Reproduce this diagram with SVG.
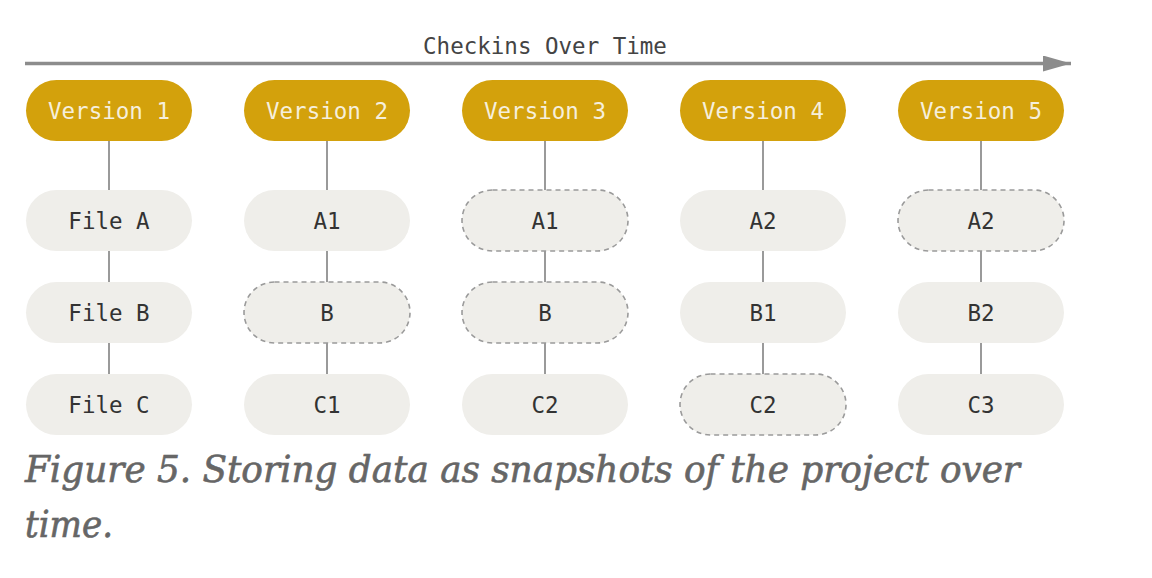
<svg xmlns="http://www.w3.org/2000/svg" width="1152" height="578" viewBox="0 0 1152 578">
<style>
.ver{fill:#d3a10c}
.ver-t{fill:#f6efdc;font-family:"DejaVu Sans Mono",monospace;font-size:22.5px;text-anchor:middle}
.file{fill:#efeeea}
.dash{stroke:#9a9a9a;stroke-width:1.6;stroke-dasharray:5 4}
.file-t{fill:#333;font-family:"DejaVu Sans Mono",monospace;font-size:22.5px;text-anchor:middle}
.conn line{stroke:#9a9a9a;stroke-width:2}
.title{fill:#444;font-family:"DejaVu Sans Mono",monospace;font-size:22.5px;text-anchor:middle}
.cap{fill:#666;stroke:#666;stroke-width:0.6;font-family:"DejaVu Serif","Liberation Serif",serif;font-stretch:condensed;font-style:italic;font-size:37px}
</style>
<defs>
<marker id="ah2" viewBox="0 0 28 16" markerWidth="28" markerHeight="16" refX="28" refY="8" orient="auto" markerUnits="userSpaceOnUse">
<path d="M0,0 L28,8 L0,16 Z" fill="#8c8c8c"/>
</marker>
</defs>
<rect width="1152" height="578" fill="#fff"/>
<g id="timeline">
<line x1="25" y1="63.5" x2="1071" y2="63.5" stroke="#8c8c8c" stroke-width="3.5" marker-end="url(#ah2)"/>
<text class="title" x="545" y="54">Checkins Over Time</text>
</g>
<g class="conn" id="connectors">
<line x1="109" y1="141" x2="109" y2="190"/><line x1="109" y1="251" x2="109" y2="282"/><line x1="109" y1="343" x2="109" y2="374"/>
<line x1="327" y1="141" x2="327" y2="190"/><line x1="327" y1="251" x2="327" y2="282"/><line x1="327" y1="343" x2="327" y2="374"/>
<line x1="545" y1="141" x2="545" y2="190"/><line x1="545" y1="251" x2="545" y2="282"/><line x1="545" y1="343" x2="545" y2="374"/>
<line x1="763" y1="141" x2="763" y2="190"/><line x1="763" y1="251" x2="763" y2="282"/><line x1="763" y1="343" x2="763" y2="374"/>
<line x1="981" y1="141" x2="981" y2="190"/><line x1="981" y1="251" x2="981" y2="282"/><line x1="981" y1="343" x2="981" y2="374"/>
</g>
<g id="v1"><rect class="ver" x="26" y="80" width="166" height="61" rx="30.5"/><text class="ver-t" x="109" y="118.5">Version 1</text></g>
<g id="v2"><rect class="ver" x="244" y="80" width="166" height="61" rx="30.5"/><text class="ver-t" x="327" y="118.5">Version 2</text></g>
<g id="v3"><rect class="ver" x="462" y="80" width="166" height="61" rx="30.5"/><text class="ver-t" x="545" y="118.5">Version 3</text></g>
<g id="v4"><rect class="ver" x="680" y="80" width="166" height="61" rx="30.5"/><text class="ver-t" x="763" y="118.5">Version 4</text></g>
<g id="v5"><rect class="ver" x="898" y="80" width="166" height="61" rx="30.5"/><text class="ver-t" x="981" y="118.5">Version 5</text></g>

<g id="v1a"><rect class="file" x="26" y="190" width="166" height="61" rx="30.5"/><text class="file-t" x="109" y="229">File A</text></g>
<g id="v1b"><rect class="file" x="26" y="282" width="166" height="61" rx="30.5"/><text class="file-t" x="109" y="321">File B</text></g>
<g id="v1c"><rect class="file" x="26" y="374" width="166" height="61" rx="30.5"/><text class="file-t" x="109" y="413">File C</text></g>

<g id="v2a"><rect class="file" x="244" y="190" width="166" height="61" rx="30.5"/><text class="file-t" x="327" y="229">A1</text></g>
<g id="v2b"><rect class="file dash" x="244" y="282" width="166" height="61" rx="30.5"/><text class="file-t" x="327" y="321">B</text></g>
<g id="v2c"><rect class="file" x="244" y="374" width="166" height="61" rx="30.5"/><text class="file-t" x="327" y="413">C1</text></g>

<g id="v3a"><rect class="file dash" x="462" y="190" width="166" height="61" rx="30.5"/><text class="file-t" x="545" y="229">A1</text></g>
<g id="v3b"><rect class="file dash" x="462" y="282" width="166" height="61" rx="30.5"/><text class="file-t" x="545" y="321">B</text></g>
<g id="v3c"><rect class="file" x="462" y="374" width="166" height="61" rx="30.5"/><text class="file-t" x="545" y="413">C2</text></g>

<g id="v4a"><rect class="file" x="680" y="190" width="166" height="61" rx="30.5"/><text class="file-t" x="763" y="229">A2</text></g>
<g id="v4b"><rect class="file" x="680" y="282" width="166" height="61" rx="30.5"/><text class="file-t" x="763" y="321">B1</text></g>
<g id="v4c"><rect class="file dash" x="680" y="374" width="166" height="61" rx="30.5"/><text class="file-t" x="763" y="413">C2</text></g>

<g id="v5a"><rect class="file dash" x="898" y="190" width="166" height="61" rx="30.5"/><text class="file-t" x="981" y="229">A2</text></g>
<g id="v5b"><rect class="file" x="898" y="282" width="166" height="61" rx="30.5"/><text class="file-t" x="981" y="321">B2</text></g>
<g id="v5c"><rect class="file" x="898" y="374" width="166" height="61" rx="30.5"/><text class="file-t" x="981" y="413">C3</text></g>

<g id="caption">
<text class="cap" x="25" y="482" textLength="995" lengthAdjust="spacingAndGlyphs">Figure 5. Storing data as snapshots of the project over</text>
<text class="cap" x="25" y="537" textLength="88" lengthAdjust="spacingAndGlyphs">time.</text>
</g>
</svg>
